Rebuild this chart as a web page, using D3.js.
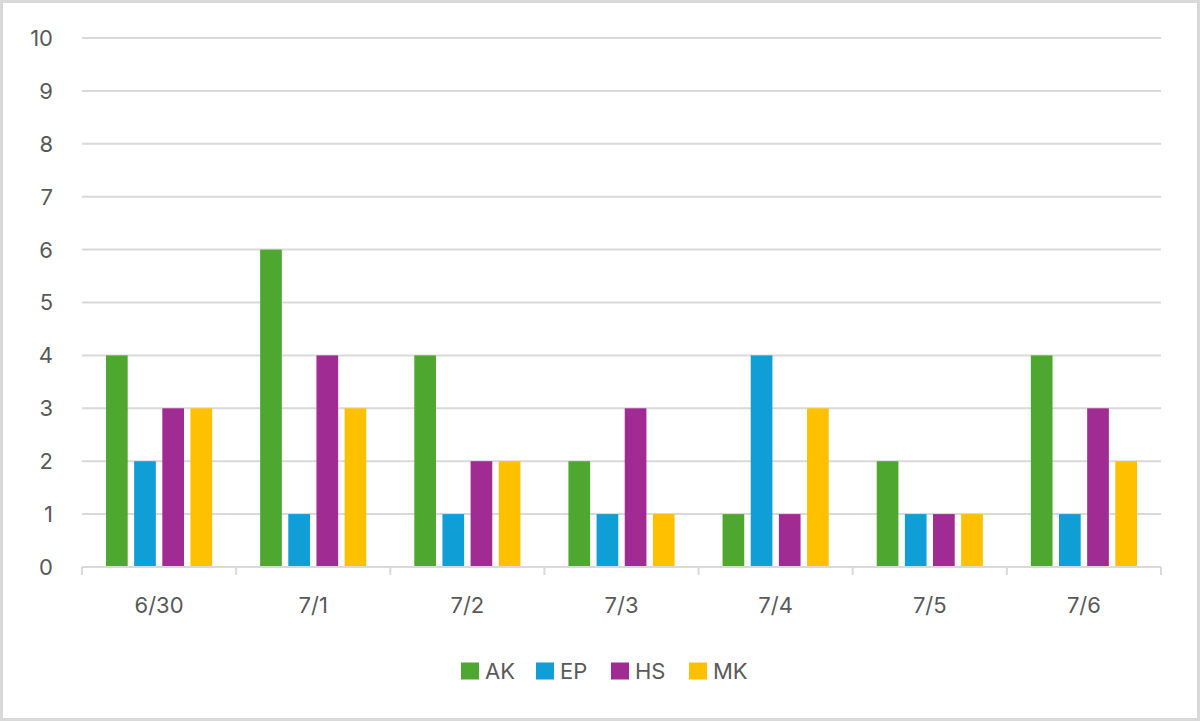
<!DOCTYPE html>
<html>
<head>
<meta charset="utf-8">
<script src="https://cdn.jsdelivr.net/npm/d3@7"></script>
<style>
  html, body { margin: 0; padding: 0; background: #fff; }
  svg { display: block; font-family: Inter, "Open Sans", sans-serif; }
</style>
</head>
<body>
<svg id="chart" width="1200" height="721"></svg>
<script>
const days = ['6/30', '7/1', '7/2', '7/3', '7/4', '7/5', '7/6'];
const series = ['AK', 'EP', 'HS', 'MK'];
const colors = ['#4ea72e', '#0f9ed5', '#a02b93', '#ffc000'];
const akValues = [4, 6, 4, 2, 1, 2, 4];
const epValues = [2, 1, 1, 1, 4, 1, 1];
const hsValues = [3, 4, 2, 3, 1, 1, 3];
const mkValues = [3, 3, 2, 1, 3, 1, 2];
const yTicks = [0, 1, 2, 3, 4, 5, 6, 7, 8, 9, 10];

const valuesBySeries = [akValues, epValues, hsValues, mkValues];
const rows = days.map((day, i) => ({
  day,
  values: series.map((s, j) => ({ key: s, value: valuesBySeries[j][i], color: colors[j] })),
}));

const svg = d3.select('#chart');
const W = 1200, H = 721;
const plot = { left: 82, right: 1161, top: 38, bottom: 567 };
const fontSize = 22;
const textColor = '#595959';

// outer frame
svg.append('rect')
  .attr('x', 1.5).attr('y', 1.5)
  .attr('width', W - 3).attr('height', H - 3)
  .attr('fill', '#fff')
  .attr('stroke', '#d9d9d9')
  .attr('stroke-width', 3);

const x0 = d3.scaleBand().domain(days).range([plot.left, plot.right]);
const x1 = d3.scaleBand().domain(series)
  .range([24, x0.bandwidth() - 24])
  .paddingInner(0.23);
const y = d3.scaleLinear().domain([0, 10]).range([plot.bottom, plot.top]);

// gridlines
svg.append('g')
  .selectAll('line')
  .data(yTicks.filter(t => t > 0))
  .join('line')
  .attr('x1', plot.left).attr('x2', plot.right)
  .attr('y1', d => y(d)).attr('y2', d => y(d))
  .attr('stroke', '#d9d9d9')
  .attr('stroke-width', 2);

// y labels
svg.append('g')
  .selectAll('text')
  .data(yTicks)
  .join('text')
  .attr('x', 53)
  .attr('y', d => y(d))
  .attr('dy', '0.36em')
  .attr('text-anchor', 'end')
  .attr('font-size', fontSize)
  .attr('fill', textColor)
  .text(d => d);

// bars
const groups = svg.append('g')
  .selectAll('g')
  .data(rows)
  .join('g')
  .attr('transform', d => `translate(${x0(d.day)},0)`);

groups.selectAll('rect')
  .data(d => d.values)
  .join('rect')
  .attr('x', d => x1(d.key))
  .attr('width', x1.bandwidth())
  .attr('y', d => y(d.value))
  .attr('height', d => y(0) - y(d.value))
  .attr('fill', d => d.color);

// x axis with tick marks between categories
const axis = svg.append('g');
axis.append('line')
  .attr('x1', plot.left).attr('x2', plot.right)
  .attr('y1', plot.bottom).attr('y2', plot.bottom)
  .attr('stroke', '#d9d9d9').attr('stroke-width', 2);
axis.selectAll('line.tick')
  .data(days.map(d => x0(d)).concat([plot.right]))
  .join('line')
  .attr('class', 'tick')
  .attr('x1', d => d).attr('x2', d => d)
  .attr('y1', plot.bottom).attr('y2', plot.bottom + 8)
  .attr('stroke', '#d9d9d9').attr('stroke-width', 2);
axis.selectAll('text')
  .data(days)
  .join('text')
  .attr('x', d => x0(d) + x0.bandwidth() / 2)
  .attr('y', 605)
  .attr('dy', '0.36em')
  .attr('text-anchor', 'middle')
  .attr('font-size', fontSize)
  .attr('fill', textColor)
  .text(d => d);

// legend
const legendX = [461, 536, 611, 689];
const legend = svg.append('g')
  .selectAll('g')
  .data(series)
  .join('g')
  .attr('transform', (d, i) => `translate(${legendX[i]},671)`);
legend.append('rect')
  .attr('x', 0).attr('y', -8.5)
  .attr('width', 18).attr('height', 17)
  .attr('fill', (d, i) => colors[i]);
legend.append('text')
  .attr('x', 24)
  .attr('dy', '0.36em')
  .attr('font-size', fontSize)
  .attr('fill', textColor)
  .text(d => d);
</script>
</body>
</html>
